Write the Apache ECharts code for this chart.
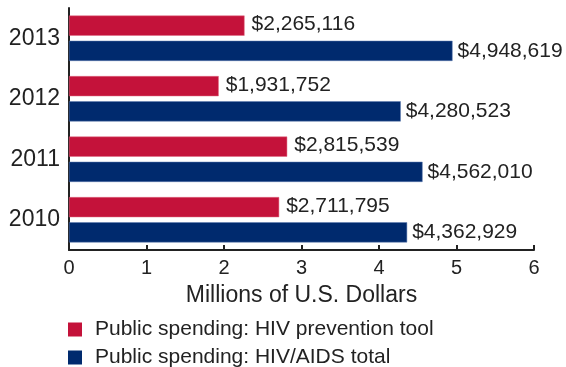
<!DOCTYPE html>
<html><head><meta charset="utf-8">
<script src="https://cdn.jsdelivr.net/npm/echarts@6/dist/echarts.min.js"></script>
<style>html,body{margin:0;padding:0;background:#fff}#c{width:566px;height:367px}</style>
</head><body><div id="c"></div>
<script>
var years = ['2013', '2012', '2011', '2010'];
var prevention = [2265116, 1931752, 2815539, 2711795];
var total = [4948619, 4280523, 4562010, 4362929];
var xTicks = [0, 1, 2, 3, 4, 5, 6];
var seriesNames = ['Public spending: HIV prevention tool', 'Public spending: HIV/AIDS total'];

function fmt(v) { return '$' + v.toString().replace(/\B(?=(\d{3})+(?!\d))/g, ','); }

var chart = echarts.init(document.getElementById('c'));
var font = 'Liberation Sans, Arial, sans-serif';
function legendFor(name, top) {
  return {
    orient: 'vertical', left: 63, top: top, itemWidth: 14, itemHeight: 14,
    icon: 'rect', selectedMode: false,
    itemStyle: { borderWidth: 0 },
    textStyle: { fontFamily: font, fontSize: 21, color: '#222', padding: [0, 0, 0, 8] },
    data: [name]
  };
}
chart.setOption({
  animation: false,
  grid: { left: 69, right: 32, top: 8, bottom: 117, containLabel: false },
  legend: [legendFor(seriesNames[0], 314), legendFor(seriesNames[1], 342)],
  xAxis: {
    type: 'value', min: 0, max: 6, interval: 1,
    name: 'Millions of U.S. Dollars', nameLocation: 'middle', nameGap: 34,
    nameTextStyle: { fontFamily: font, fontSize: 23, color: '#222' },
    axisLine: { show: true, lineStyle: { color: '#222', width: 2 } },
    axisTick: { show: true, inside: true, length: 5, lineStyle: { color: '#222', width: 2 } },
    axisLabel: { fontFamily: font, fontSize: 20, color: '#222', margin: 8,
      formatter: function (v) { return xTicks.indexOf(v) >= 0 ? String(v) : ''; } },
    splitLine: { show: false }
  },
  yAxis: {
    type: 'category', data: years, inverse: true,
    axisLine: { show: true, lineStyle: { color: '#222', width: 2 } },
    axisTick: { show: false },
    axisLabel: { fontFamily: font, fontSize: 23, color: '#222', margin: 9 }
  },
  series: [
    {
      name: seriesNames[0], type: 'bar', barGap: '25%', barCategoryGap: '25%',
      data: prevention.map(function (v) { return v / 1e6; }),
      itemStyle: { color: '#C4123A', borderColor: '#e06a80', borderWidth: 0.5 },
      label: { show: true, position: 'right', distance: 7, offset: [0, -1], fontFamily: font, fontSize: 21, color: '#222',
        formatter: function (p) { return fmt(prevention[p.dataIndex]); } }
    },
    {
      name: seriesNames[1], type: 'bar', barGap: '25%', barCategoryGap: '25%',
      data: total.map(function (v) { return v / 1e6; }),
      itemStyle: { color: '#002A6E', borderColor: '#5a7ab0', borderWidth: 0.5 },
      label: { show: true, position: 'right', distance: 5, fontFamily: font, fontSize: 21, color: '#222',
        formatter: function (p) { return fmt(total[p.dataIndex]); } }
    }
  ]
});
</script></body></html>
